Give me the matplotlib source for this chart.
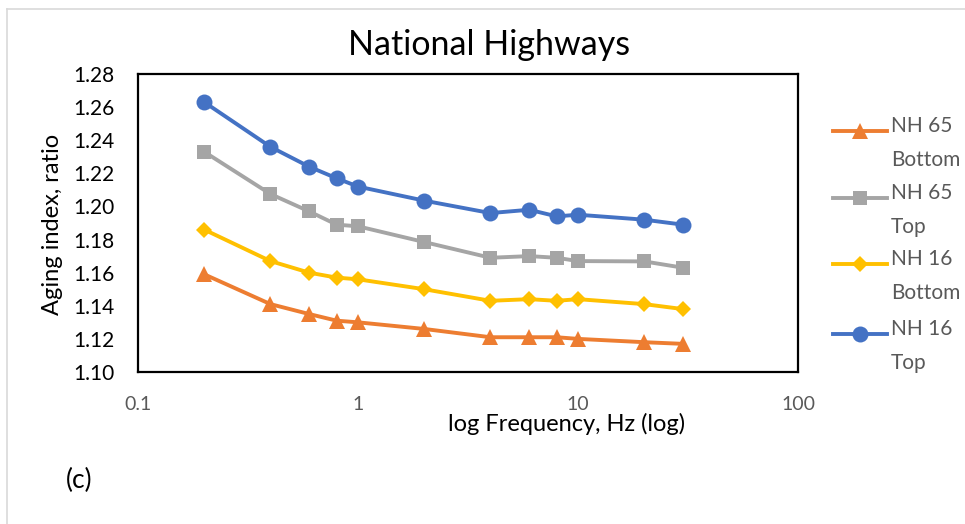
import matplotlib
matplotlib.use("Agg")
import matplotlib.pyplot as plt
from matplotlib.lines import Line2D

plt.rcParams["font.family"] = ["Lato", "DejaVu Sans"]

freq = [0.2, 0.4, 0.6, 0.8, 1, 2, 4, 6, 8, 10, 20, 30]
nh65_bottom = [1.159, 1.141, 1.135, 1.131, 1.130, 1.126, 1.121, 1.121, 1.121, 1.120, 1.118, 1.117]
nh65_top = [1.233, 1.2075, 1.197, 1.189, 1.188, 1.1785, 1.169, 1.170, 1.169, 1.167, 1.1668, 1.163]
nh16_bottom = [1.186, 1.167, 1.160, 1.157, 1.156, 1.150, 1.143, 1.144, 1.143, 1.144, 1.141, 1.138]
nh16_top = [1.263, 1.236, 1.224, 1.217, 1.212, 1.2035, 1.196, 1.198, 1.194, 1.195, 1.192, 1.189]

series = [
    ("NH 65\nBottom", nh65_bottom, "#ED7D31", "^", 11),
    ("NH 65\nTop", nh65_top, "#A5A5A5", "s", 10),
    ("NH 16\nBottom", nh16_bottom, "#FFC000", "D", 8),
    ("NH 16\nTop", nh16_top, "#4472C4", "o", 11.5),
]

W, H = 965, 524
fig = plt.figure(figsize=(W / 100, H / 100), dpi=100)
ax = fig.add_axes([138 / W, 1 - 372 / H, 660 / W, 298 / H])

for label, vals, color, marker, ms in series:
    ax.plot(freq, vals, color=color, marker=marker, markersize=ms, linewidth=2.8,
            label=label, markeredgewidth=0)

ax.set_xscale("log")
ax.set_xlim(0.1, 100)
ax.set_ylim(1.10, 1.28)
ax.set_xticks([0.1, 1, 10, 100])
ax.set_xticklabels(["0.1", "1", "10", "100"])
ax.set_yticks([1.10 + 0.02 * i for i in range(10)])
ax.set_yticklabels([f"{1.10 + 0.02 * i:.2f}" for i in range(10)])
ax.minorticks_off()
ax.tick_params(axis="y", length=0, pad=17, labelsize=15, labelcolor="black")
ax.tick_params(axis="x", length=0, pad=17, labelsize=14, labelcolor="#595959")
for sp in ax.spines.values():
    sp.set_linewidth(1.6)
    sp.set_color("black")

fig.text(489 / W, 1 - 45 / H, "National Highways", ha="center", va="center", fontsize=24.5)
fig.text(53 / W, 1 - 224 / H, "Aging index, ratio", ha="center", va="center",
         rotation=90, fontsize=17)
fig.text(567 / W, 1 - 424 / H, "log Frequency, Hz (log)", ha="center", va="center", fontsize=17)
fig.text(66 / W, 1 - 480 / H, "(c)", ha="left", va="center", fontsize=19)

# legend drawn by hand: handle next to the first line of each two-line label
leg_y = [131, 198, 264, 334]
for (label, vals, color, marker, ms), y in zip(series, leg_y):
    yf = 1 - y / H
    fig.add_artist(Line2D([833 / W, 887 / W], [yf, yf], transform=fig.transFigure,
                          color=color, linewidth=2.8))
    fig.add_artist(Line2D([860 / W], [yf], transform=fig.transFigure, color=color,
                          marker=marker, markersize=ms, markeredgewidth=0))
    fig.text(891 / W, yf + 15 / H, label, ha="left", va="top", fontsize=15,
             color="#595959", linespacing=1.85)

# light outer border (top and left edges only)
fig.add_artist(Line2D([7 / W, 1], [1 - 9 / H, 1 - 9 / H], transform=fig.transFigure,
                      color="#D9D9D9", linewidth=1.2))
fig.add_artist(Line2D([7 / W, 7 / W], [0, 1 - 9 / H], transform=fig.transFigure,
                      color="#D9D9D9", linewidth=1.2))

fig.savefig("out.png", dpi=100)
